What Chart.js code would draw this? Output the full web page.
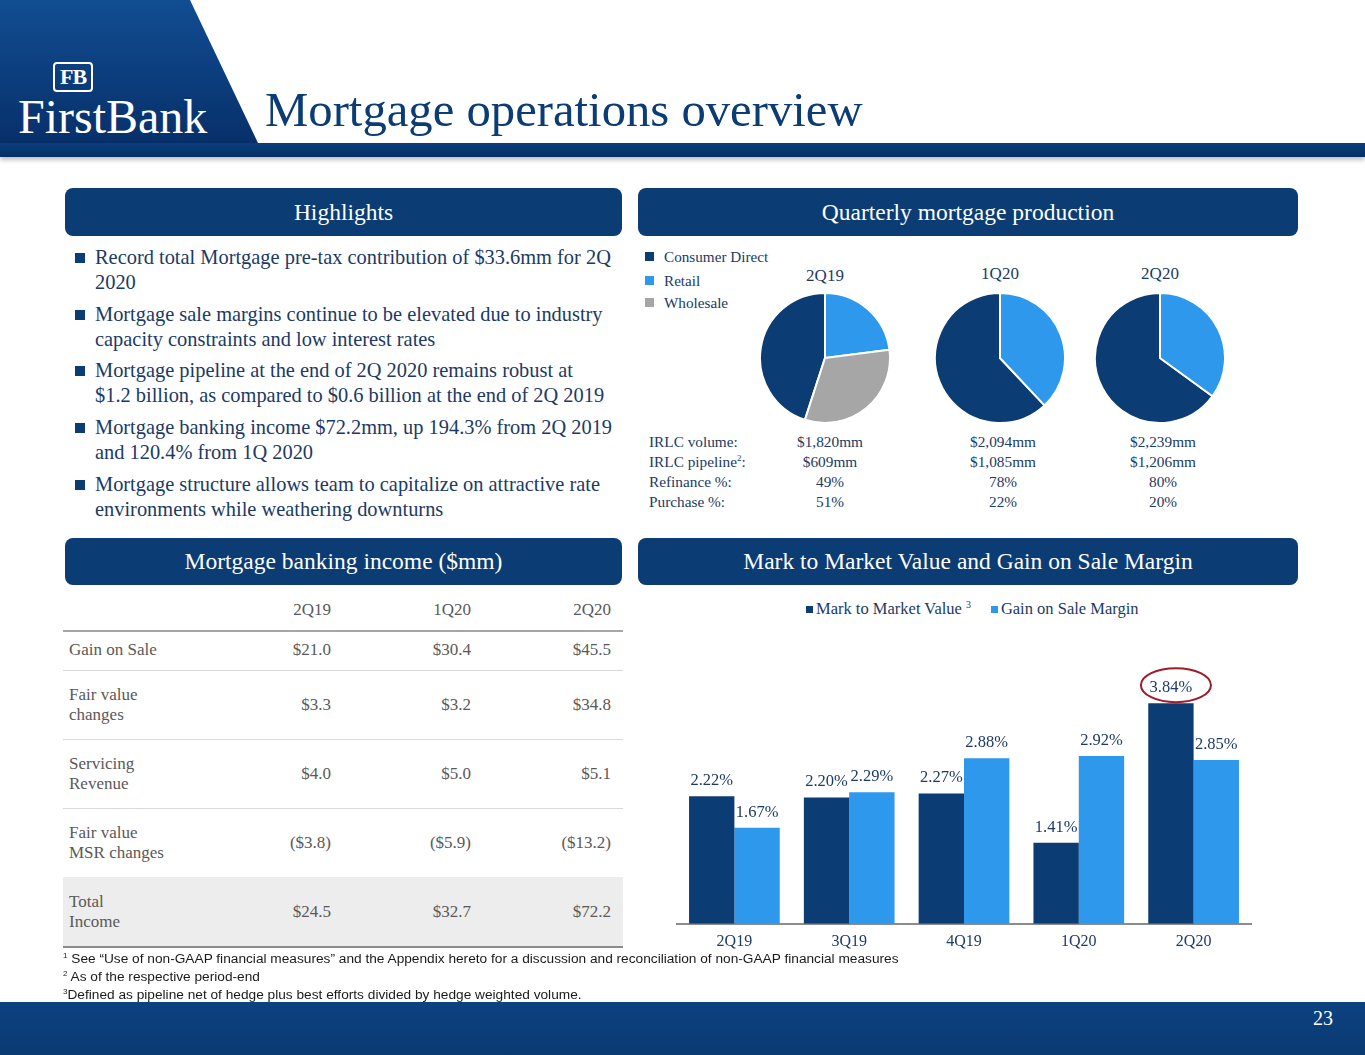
<!DOCTYPE html>
<html>
<head>
<meta charset="utf-8">
<script src="https://cdn.jsdelivr.net/npm/chart.js@4.4.0/dist/chart.umd.min.js"></script>
<style>
  html, body { margin: 0; padding: 0; }
  body { width: 1365px; height: 1055px; position: relative; overflow: hidden; background: #fff;
         font-family: "Liberation Serif", serif; color: #1b3a65; }
  .abs { position: absolute; }
  sup { line-height: 0; }
  .hdr-left { left: 0; top: 0; width: 260px; height: 143px;
              background: linear-gradient(#114d92, #07306a);
              clip-path: polygon(0 0, 190px 0, 258px 143px, 0 143px); }
  .hdr-band { left: 0; top: 143px; width: 1365px; height: 14px; background: linear-gradient(#0b3f7a, #062e66);
              box-shadow: 0 3px 4px rgba(0,0,0,0.25); }
  .title { left: 265px; top: 82px; font-size: 48.7px; line-height: 56px; color: #0b3c74; white-space: nowrap; }
  .logo-box { left: 53px; top: 62px; width: 36px; height: 26px; border: 2px solid #fff; border-radius: 4px;
              color: #fff; font-size: 22px; line-height: 26px; text-align: center; letter-spacing: -1px; font-weight: bold; }
  .logo-text { left: 18px; top: 100px; font-size: 48px; line-height: 34px; color: #fff; white-space: nowrap; }
  .sec { background: #0b3c74; color: #fff; border-radius: 8px; font-size: 23.5px; text-align: center;
         display: flex; align-items: center; justify-content: center; white-space: nowrap; }
  .bullet { left: 95px; font-size: 20.4px; line-height: 25px; white-space: nowrap; color: #1b3a65; }
  .sq { width: 10px; height: 10px; background: #0b3c74; left: 75px; }
  .leg { font-size: 15.2px; white-space: nowrap; }
  .legsq { width: 9px; height: 9px; }
  .small { font-size: 15.3px; line-height: 18px; white-space: nowrap; }
  .ctr { transform: translateX(-50%); text-align: center; }
  .row { left: 63px; width: 560px; display: flex; align-items: center; font-size: 17px; color: #595959; }
  .row .lab { width: 150px; padding-left: 6px; line-height: 20px; }
  .row .val { position: absolute; text-align: right; white-space: nowrap; }
  .foot { left: 63px; font-family: "Liberation Sans", sans-serif; font-size: 13.7px; line-height: 16px; color: #1a1a1a; white-space: nowrap; }
  .foot sup { font-size: 8px; position: relative; top: 1px; }
  .footer { left: 0; top: 1002px; width: 1365px; height: 53px; background: linear-gradient(#0d4180, #0a3a72); }
</style>
</head>
<body>
<div class="abs hdr-left"></div>
<div class="abs hdr-band"></div>
<div class="abs logo-box">FB</div>
<div class="abs logo-text">FirstBank</div>
<div class="abs title">Mortgage operations overview</div>

<div class="abs sec" style="left:65px;top:188px;width:557px;height:48px;">Highlights</div>
<div class="abs sec" style="left:638px;top:188px;width:660px;height:48px;">Quarterly mortgage production</div>
<div class="abs sec" style="left:65px;top:538px;width:557px;height:47px;">Mortgage banking income ($mm)</div>
<div class="abs sec" style="left:638px;top:538px;width:660px;height:47px;">Mark to Market Value and Gain on Sale Margin</div>

<div id="bullets"></div>

<div class="abs legsq" style="left:645px;top:252px;background:#0b3c74;"></div>
<div class="abs leg" style="left:664px;top:248px;">Consumer Direct</div>
<div class="abs legsq" style="left:645px;top:276px;background:#2e98ec;"></div>
<div class="abs leg" style="left:664px;top:272px;">Retail</div>
<div class="abs legsq" style="left:645px;top:298px;background:#a6a6a6;"></div>
<div class="abs leg" style="left:664px;top:294px;">Wholesale</div>

<div id="pies"></div>
<div id="irlc"></div>

<div id="incomeTable"></div>

<div class="abs" style="left:806px;top:599px;font-size:16.5px;white-space:nowrap;display:flex;align-items:center;">
  <span style="display:inline-block;width:7px;height:7px;background:#0b3c74;margin-right:3px;"></span>Mark to Market Value <sup style="font-size:10px;margin-left:4px;position:relative;top:-4px;">3</sup>
  <span style="display:inline-block;width:7px;height:7px;background:#2e98ec;margin:0 3px 0 20px;"></span>Gain on Sale Margin
</div>
<div class="abs" style="left:660px;top:640px;width:605px;height:319px;">
  <canvas id="barChart" width="605" height="319"></canvas>
</div>

<div class="abs foot" style="top:951px;"><sup>1</sup> See “Use of non-GAAP financial measures” and the Appendix hereto for a discussion and reconciliation of non-GAAP financial measures</div>
<div class="abs foot" style="top:969px;"><sup>2</sup> As of the respective period-end</div>
<div class="abs foot" style="top:987px;"><sup>3</sup>Defined as pipeline net of hedge plus best efforts divided by hedge weighted volume.</div>
<div class="abs footer"></div>
<div class="abs" style="right:32px;top:1007px;font-size:20px;color:#fff;">23</div>

<script>
// highlights
const highlights = [
  ['Record total Mortgage pre-tax contribution of $33.6mm for 2Q', '2020'],
  ['Mortgage sale margins continue to be elevated due to industry', 'capacity constraints and low interest rates'],
  ['Mortgage pipeline at the end of 2Q 2020 remains robust at', '$1.2 billion, as compared to $0.6 billion at the end of 2Q 2019'],
  ['Mortgage banking income $72.2mm, up 194.3% from 2Q 2019', 'and 120.4% from 1Q 2020'],
  ['Mortgage structure allows team to capitalize on attractive rate', 'environments while weathering downturns']
];

// quarterly production (pies), share of volume in %
const pieQuarters = ['2Q19', '1Q20', '2Q20'];
const channels = ['Consumer Direct', 'Retail', 'Wholesale'];
const consumerDirect = [45, 62, 65];
const retail = [23, 38, 35];
const wholesale = [32, 0, 0];
const irlcVolume = ['$1,820mm', '$2,094mm', '$2,239mm'];
const irlcPipeline = ['$609mm', '$1,085mm', '$1,206mm'];
const refinancePct = ['49%', '78%', '80%'];
const purchasePct = ['51%', '22%', '20%'];

// mortgage banking income ($mm)
const incomeQuarters = ['2Q19', '1Q20', '2Q20'];
const gainOnSale = [21.0, 30.4, 45.5];
const fairValueChanges = [3.3, 3.2, 34.8];
const servicingRevenue = [4.0, 5.0, 5.1];
const fairValueMsr = [-3.8, -5.9, -13.2];
const totalIncome = [24.5, 32.7, 72.2];

// mark to market / gain on sale margin (%)
const barQuarters = ['2Q19', '3Q19', '4Q19', '1Q20', '2Q20'];
const markToMarket = [2.22, 2.20, 2.27, 1.41, 3.84];
const gainOnSaleMargin = [1.67, 2.29, 2.88, 2.92, 2.85];

const NAVY = '#0b3c74';
const LIGHT = '#2e98ec';
const GRAY = '#a6a6a6';

// bullets
var bl = document.getElementById('bullets');
var bulletTops = [245, 302, 358, 415, 472];
highlights.forEach(function (lines, i) {
  var sq = document.createElement('div');
  sq.className = 'abs sq';
  sq.style.top = (bulletTops[i] + 8) + 'px';
  bl.appendChild(sq);
  var t = document.createElement('div');
  t.className = 'abs bullet';
  t.style.top = bulletTops[i] + 'px';
  t.innerHTML = lines.join('<br>');
  bl.appendChild(t);
});

// pies
var pieCenters = [825, 1000, 1160];
var titleTops = [267, 265, 265];
var piesEl = document.getElementById('pies');
pieQuarters.forEach(function (q, i) {
  var title = document.createElement('div');
  title.className = 'abs small ctr';
  title.style.cssText += 'left:' + pieCenters[i] + 'px;top:' + titleTops[i] + 'px;font-size:17px;';
  title.textContent = q;
  piesEl.appendChild(title);

  var wrap = document.createElement('div');
  wrap.className = 'abs';
  wrap.style.cssText = 'left:' + (pieCenters[i] - 66) + 'px;top:292px;width:132px;height:132px;';
  var cv = document.createElement('canvas');
  cv.width = 132; cv.height = 132;
  wrap.appendChild(cv);
  piesEl.appendChild(wrap);

  var vals = [consumerDirect[i], retail[i], wholesale[i]];
  var total = vals[0] + vals[1] + vals[2];
  new Chart(cv.getContext('2d'), {
    type: 'pie',
    data: {
      labels: channels,
      datasets: [{
        data: vals,
        backgroundColor: [NAVY, LIGHT, GRAY],
        borderColor: '#fff',
        borderWidth: 2,
        hoverOffset: 0
      }]
    },
    options: {
      responsive: false,
      animation: false,
      rotation: -360 * consumerDirect[i] / total,
      plugins: { legend: { display: false }, tooltip: { enabled: false } }
    }
  });
});

// IRLC rows
var irlcEl = document.getElementById('irlc');
var irlcRows = [['IRLC volume:', irlcVolume], ['IRLC pipeline<sup style="font-size:9px">2</sup>:', irlcPipeline],
                ['Refinance %:', refinancePct], ['Purchase %:', purchasePct]];
var valCenters = [830, 1003, 1163];
irlcRows.forEach(function (r, i) {
  var top = 433 + i * 20;
  var lab = document.createElement('div');
  lab.className = 'abs small';
  lab.style.cssText += 'left:649px;top:' + top + 'px;';
  lab.innerHTML = r[0];
  irlcEl.appendChild(lab);
  r[1].forEach(function (v, j) {
    var d = document.createElement('div');
    d.className = 'abs small ctr';
    d.style.cssText += 'left:' + valCenters[j] + 'px;top:' + top + 'px;';
    d.textContent = v;
    irlcEl.appendChild(d);
  });
});

// income table
function money(v) {
  var s = '$' + Math.abs(v).toFixed(1);
  return v < 0 ? '(' + s + ')' : s;
}
var tbl = document.getElementById('incomeTable');
var colRights = [331, 471, 611];
var rows = [
  { label: '', vals: incomeQuarters, top: 590, h: 40, line: '2px solid #a6a6a6' },
  { label: 'Gain on Sale', vals: gainOnSale.map(money), top: 630, h: 40, line: '1px solid #d9d9d9' },
  { label: 'Fair value<br>changes', vals: fairValueChanges.map(money), top: 670, h: 69, line: '1px solid #d9d9d9' },
  { label: 'Servicing<br>Revenue', vals: servicingRevenue.map(money), top: 739, h: 69, line: '1px solid #d9d9d9' },
  { label: 'Fair value<br>MSR changes', vals: fairValueMsr.map(money), top: 808, h: 69, line: '1px solid #d9d9d9' },
  { label: 'Total<br>Income', vals: totalIncome.map(money), top: 877, h: 69, line: '2px solid #8c8c8c', bg: '#ededed' }
];
rows.forEach(function (r) {
  var d = document.createElement('div');
  d.className = 'abs row';
  d.style.top = r.top + 'px';
  d.style.height = r.h + 'px';
  d.style.borderBottom = r.line;
  if (r.bg) d.style.background = r.bg;
  var lab = document.createElement('div');
  lab.className = 'lab';
  lab.innerHTML = r.label;
  d.appendChild(lab);
  r.vals.forEach(function (v, j) {
    var s = document.createElement('div');
    s.className = 'val';
    s.style.right = (623 - colRights[j]) + 'px';
    s.textContent = v;
    d.appendChild(s);
  });
  tbl.appendChild(d);
});

// bar chart
var barLabels = {
  id: 'barLabels',
  afterDatasetsDraw: function (chart) {
    var ctx = chart.ctx;
    ctx.save();
    ctx.font = '16.5px "Liberation Serif"';
    ctx.fillStyle = '#1d3b66';
    ctx.textAlign = 'center';
    ctx.textBaseline = 'bottom';
    chart.data.datasets.forEach(function (ds, i) {
      chart.getDatasetMeta(i).data.forEach(function (bar, j) {
        ctx.fillText(ds.data[j].toFixed(2) + '%', bar.x, bar.y - 7);
      });
    });
    // highlight the peak mark-to-market value
    var top = markToMarket.indexOf(Math.max.apply(null, markToMarket));
    var b = chart.getDatasetMeta(0).data[top];
    ctx.beginPath();
    ctx.ellipse(b.x + 5, b.y - 18, 35, 17, 0, 0, Math.PI * 2);
    ctx.strokeStyle = '#9e1b2a';
    ctx.lineWidth = 2;
    ctx.stroke();
    ctx.restore();
  }
};

new Chart(document.getElementById('barChart').getContext('2d'), {
  type: 'bar',
  data: {
    labels: barQuarters,
    datasets: [
      { label: 'Mark to Market Value', data: markToMarket, backgroundColor: NAVY,
        categoryPercentage: 0.79, barPercentage: 1.0 },
      { label: 'Gain on Sale Margin', data: gainOnSaleMargin, backgroundColor: LIGHT,
        categoryPercentage: 0.79, barPercentage: 1.0 }
    ]
  },
  options: {
    responsive: false,
    animation: false,
    layout: { padding: { top: 54, left: 17, right: 14, bottom: 0 } },
    scales: {
      x: {
        grid: { display: false, drawTicks: false },
        border: { display: true, color: '#8c8c8c', width: 2 },
        ticks: { color: '#1d3b66', padding: 8, font: { family: 'Liberation Serif', size: 16 } }
      },
      y: { display: false, min: 0, max: 4 }
    },
    plugins: { legend: { display: false }, tooltip: { enabled: false } }
  },
  plugins: [barLabels]
});
</script>
</body>
</html>
